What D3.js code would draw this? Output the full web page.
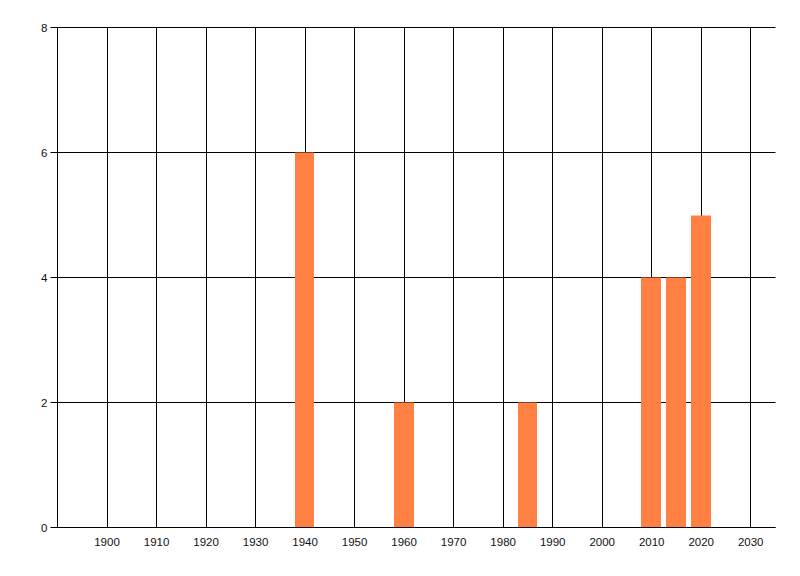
<!DOCTYPE html>
<html>
<head>
<meta charset="utf-8">
<script src="https://cdn.jsdelivr.net/npm/d3@7"></script>
<style>
  body { margin: 0; background: #fff; }
  text { font-family: "Liberation Sans", Arial, sans-serif; font-size: 11.5px; fill: #111; }
</style>
</head>
<body>
<div id="chart"></div>
<script>
// data
const years = [1940, 1960, 1985, 2010, 2015, 2020];
const counts = [6, 2, 2, 4, 4, 5];
const xTicks = [1900, 1910, 1920, 1930, 1940, 1950, 1960, 1970, 1980, 1990, 2000, 2010, 2020, 2030];
const yTicks = [0, 2, 4, 6, 8];

const margin = { top: 27, right: 25, bottom: 49, left: 57 };
const W = 800, H = 576;
const width = W - margin.left - margin.right;
const height = H - margin.top - margin.bottom;

const svg = d3.select('#chart')
  .append('svg')
  .attr('width', W)
  .attr('height', H)
  .append('g')
  .attr('transform', `translate(${margin.left + 0.5}, ${margin.top + 0.5})`);

const x = d3.scaleLinear().domain([1890, 2035]).range([0, width]);
const y = d3.scaleLinear().domain([0, 8]).range([height, 0]);

// vertical grid
svg.selectAll('.vgrid')
  .data(xTicks)
  .enter().append('line')
  .attr('x1', d => Math.round(x(d)))
  .attr('x2', d => Math.round(x(d)))
  .attr('y1', 0)
  .attr('y2', height)
  .attr('stroke', '#000');

// horizontal grid (with the little tick on the left)
svg.selectAll('.hgrid')
  .data(yTicks)
  .enter().append('line')
  .attr('x1', -7)
  .attr('x2', width)
  .attr('y1', d => Math.round(y(d)))
  .attr('y2', d => Math.round(y(d)))
  .attr('stroke', '#000');

// y axis line
svg.append('line')
  .attr('x1', 0).attr('x2', 0)
  .attr('y1', 0).attr('y2', height)
  .attr('stroke', '#000');

// bars, 4 years wide
const data = years.map((d, i) => ({ year: d, value: counts[i] }));
svg.selectAll('.bar')
  .data(data)
  .enter().append('rect')
  .attr('class', 'bar')
  .attr('x', d => Math.round(x(d.year - 2)) - 0.5)
  .attr('width', d => Math.round(x(d.year + 2)) - Math.round(x(d.year - 2)))
  .attr('y', d => Math.round(y(d.value)))
  .attr('height', d => Math.round(y(0)) - Math.round(y(d.value)))
  .attr('fill', '#ff8042');

// x axis line on top of bars
svg.append('line')
  .attr('x1', 0).attr('x2', width)
  .attr('y1', height).attr('y2', height)
  .attr('stroke', '#000');

// labels
svg.selectAll('.xlab')
  .data(xTicks)
  .enter().append('text')
  .attr('x', d => x(d))
  .attr('y', height + 18)
  .attr('text-anchor', 'middle')
  .text(d => d);

svg.selectAll('.ylab')
  .data(yTicks)
  .enter().append('text')
  .attr('x', -10)
  .attr('y', d => y(d) + 4.5)
  .attr('text-anchor', 'end')
  .text(d => d);
</script>
</body>
</html>
